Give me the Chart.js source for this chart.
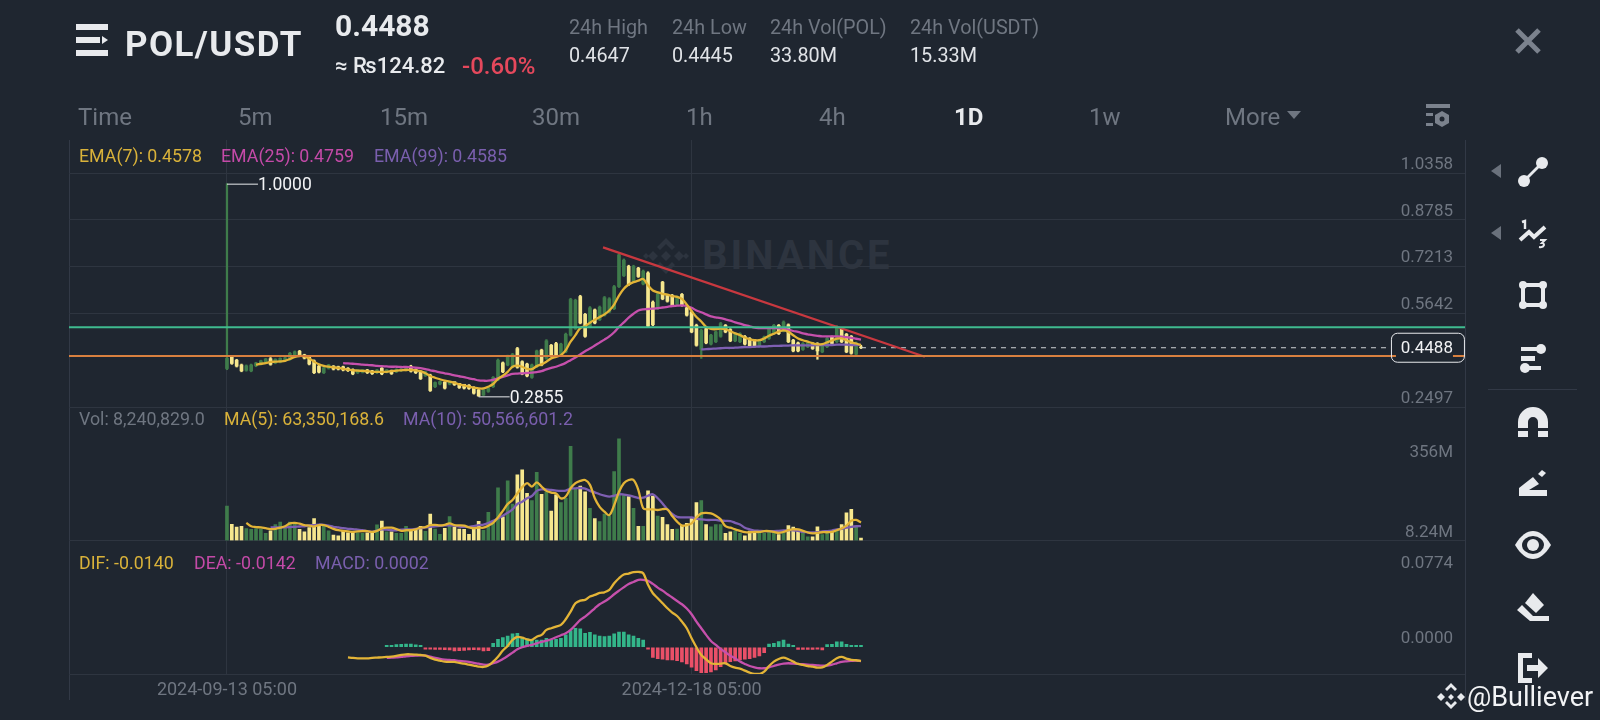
<!DOCTYPE html>
<html>
<head>
<meta charset="utf-8">
<script src="https://cdn.jsdelivr.net/npm/chart.js@4"></script>
<style>
html,body{margin:0;padding:0;background:#1f2630;width:1600px;height:720px;overflow:hidden;font-family:Roboto,"DejaVu Sans",sans-serif;}
.t{position:absolute;white-space:nowrap;transform:translateY(-50%);line-height:1;}
.ln{position:absolute;background:#323946;}
svg.i{position:absolute;overflow:visible;}
canvas{position:absolute;left:0;top:0;}
</style>
</head>
<body>
<!-- frame + watermark behind the chart -->
<div class="ln" style="left:69px;top:140px;width:1px;height:560px"></div>
<div class="ln" style="left:1465px;top:140px;width:1px;height:560px"></div>
<svg class="i" style="left:643px;top:238px" width="46" height="36" viewBox="0 0 46 36" fill="#2d343f">
  <path d="M23 0l9 9-3 3-6-6-6 6-3-3zM10 13l5 5-5 5-5-5zM36 13l5 5-5 5-5-5zM23 13l5 5-5 5-5-5zM14 27l3-3 6 6 6-6 3 3-9 9zM3 15l3 3-3 3-3-3zM43 15l3 3-3 3-3-3z"/>
</svg>
<div class="t" style="left:702px;top:256px;font-size:40px;font-weight:700;color:#2d343f;letter-spacing:3px">BINANCE</div>

<canvas id="c" width="1600" height="720"></canvas>

<!-- header -->
<svg class="i" style="left:76px;top:24px" width="32" height="32" viewBox="0 0 32 32" fill="#e8eaed">
  <rect x="0" y="0" width="32" height="6"/><rect x="0" y="13" width="24" height="6"/><path d="M26 12l6 4-6 4z"/><rect x="0" y="26" width="32" height="6"/>
</svg>
<div class="t" style="left:125px;top:44px;font-size:35px;font-weight:700;color:#e8eaed;letter-spacing:1.4px">POL/USDT</div>
<div class="t" style="left:335px;top:26px;font-size:30px;font-weight:700;color:#e8eaed">0.4488</div>
<div class="t" style="left:335px;top:66px;font-size:22px;font-weight:500;color:#e8eaed">≈ ₨124.82</div>
<div class="t" style="left:462px;top:66px;font-size:24px;font-weight:500;color:#e5485c">-0.60%</div>
<div class="t" style="left:569px;top:28px;font-size:19.8px;color:#6f7681">24h High</div>
<div class="t" style="left:569px;top:56px;font-size:19.8px;color:#e0e3e7">0.4647</div>
<div class="t" style="left:672px;top:28px;font-size:19.8px;color:#6f7681">24h Low</div>
<div class="t" style="left:672px;top:56px;font-size:19.8px;color:#e0e3e7">0.4445</div>
<div class="t" style="left:770px;top:28px;font-size:19.8px;color:#6f7681">24h Vol(POL)</div>
<div class="t" style="left:770px;top:56px;font-size:19.8px;color:#e0e3e7">33.80M</div>
<div class="t" style="left:910px;top:28px;font-size:19.8px;color:#6f7681">24h Vol(USDT)</div>
<div class="t" style="left:910px;top:56px;font-size:19.8px;color:#e0e3e7">15.33M</div>
<svg class="i" style="left:1515px;top:28px" width="26" height="26" viewBox="0 0 26 26" stroke="#7b828d" stroke-width="5" fill="none"><path d="M2 2l22 22M24 2L2 24"/></svg>

<!-- interval row -->
<div class="t" style="left:78px;top:117px;font-size:24px;color:#6f7681">Time</div>
<div class="t" style="left:238px;top:117px;font-size:24px;color:#6f7681">5m</div>
<div class="t" style="left:380px;top:117px;font-size:24px;color:#6f7681">15m</div>
<div class="t" style="left:532px;top:117px;font-size:24px;color:#6f7681">30m</div>
<div class="t" style="left:686px;top:117px;font-size:24px;color:#6f7681">1h</div>
<div class="t" style="left:819px;top:117px;font-size:24px;color:#6f7681">4h</div>
<div class="t" style="left:954px;top:117px;font-size:24px;font-weight:700;color:#e8eaed">1D</div>
<div class="t" style="left:1089px;top:117px;font-size:24px;color:#6f7681">1w</div>
<div class="t" style="left:1225px;top:117px;font-size:24px;color:#6f7681">More</div>
<svg class="i" style="left:1287px;top:111px" width="14" height="8" viewBox="0 0 14 8" fill="#6f7681"><path d="M0 0h14L7 8z"/></svg>
<svg class="i" style="left:1426px;top:104px" width="24" height="24" viewBox="0 0 24 24" fill="#7b828d"><rect x="0" y="0" width="24" height="4"/><rect x="0" y="9" width="7" height="3"/><rect x="0" y="19" width="7" height="3"/><path d="M16 7l7 4v8l-7 4-7-4v-8z"/><circle cx="16" cy="15" r="2.5" fill="#1f2630"/></svg>

<!-- indicator legends -->
<div class="t" style="left:79px;top:156px;font-size:17.8px;color:#d9b23a">EMA(7): 0.4578</div>
<div class="t" style="left:221px;top:156px;font-size:17.8px;color:#c44aa8">EMA(25): 0.4759</div>
<div class="t" style="left:374px;top:156px;font-size:17.8px;color:#7a5fae">EMA(99): 0.4585</div>
<div class="t" style="left:79px;top:419px;font-size:17.8px;color:#6f7681">Vol: 8,240,829.0</div>
<div class="t" style="left:224px;top:419px;font-size:17.8px;color:#d9b23a">MA(5): 63,350,168.6</div>
<div class="t" style="left:403px;top:419px;font-size:17.8px;color:#7a5fae">MA(10): 50,566,601.2</div>
<div class="t" style="left:79px;top:563px;font-size:17.8px;color:#d9b23a">DIF: -0.0140</div>
<div class="t" style="left:194px;top:563px;font-size:17.8px;color:#c44aa8">DEA: -0.0142</div>
<div class="t" style="left:315px;top:563px;font-size:17.8px;color:#7a5fae">MACD: 0.0002</div>

<!-- drawing toolbar -->
<svg class="i" style="left:1491px;top:164px" width="10" height="14" viewBox="0 0 10 14" fill="#6a717c"><path d="M10 0v14L0 7z"/></svg>
<svg class="i" style="left:1491px;top:226px" width="10" height="14" viewBox="0 0 10 14" fill="#6a717c"><path d="M10 0v14L0 7z"/></svg>
<svg class="i" style="left:1518px;top:157px" width="30" height="30" viewBox="0 0 30 30" fill="#e8eaed"><circle cx="6" cy="24" r="6"/><circle cx="24" cy="6" r="6"/><path d="M6 22l16-16 2 2-16 16z"/></svg>
<svg class="i" style="left:1518px;top:219px" width="30" height="30" viewBox="0 0 30 30" fill="none" stroke="#e8eaed"><path d="M2 21l9-8 5 5 11-10" stroke-width="4"/><path d="M4 3l3-1v8" stroke-width="2.4"/><path d="M22 21h5l-3 3c3 0 3 5-3 4" stroke-width="2"/></svg>
<svg class="i" style="left:1519px;top:281px" width="28" height="28" viewBox="0 0 28 28" fill="#e8eaed"><path d="M4 4h20v20H4z" fill="none" stroke="#e8eaed" stroke-width="4"/><circle cx="4" cy="4" r="4"/><circle cx="24" cy="4" r="4"/><circle cx="4" cy="24" r="4"/><circle cx="24" cy="24" r="4"/></svg>
<svg class="i" style="left:1519px;top:344px" width="28" height="28" viewBox="0 0 28 28" fill="#e8eaed"><circle cx="22" cy="5" r="5"/><rect x="2" y="3" width="20" height="4"/><rect x="2" y="12" width="14" height="5"/><circle cx="6" cy="24" r="5"/><rect x="6" y="22" width="16" height="4"/></svg>
<div class="ln" style="left:1488px;top:389px;width:89px;height:1px"></div>
<svg class="i" style="left:1518px;top:407px" width="30" height="30" viewBox="0 0 30 30" fill="#e8eaed"><path d="M0 15a15 15 0 0 1 30 0v6h-10v-6a5 5 0 0 0-10 0v6H0z"/><rect x="0" y="24" width="10" height="6"/><rect x="20" y="24" width="10" height="6"/></svg>
<svg class="i" style="left:1519px;top:470px" width="28" height="26" viewBox="0 0 28 26" fill="#e8eaed"><path d="M0 18l14-11 6 7-10 6h18v6H0z"/><path d="M19 4l4-4 4 3-4 4z"/></svg>
<svg class="i" style="left:1515px;top:531px" width="36" height="28" viewBox="0 0 36 28"><path d="M0 14C6 4 12 0 18 0s12 4 18 14c-6 10-12 14-18 14S6 24 0 14z" fill="#e8eaed"/><ellipse cx="18" cy="14" rx="11" ry="9" fill="#1f2630"/><circle cx="18" cy="14" r="6" fill="#e8eaed"/></svg>
<svg class="i" style="left:1517px;top:593px" width="32" height="30" viewBox="0 0 32 30" fill="#e8eaed"><path d="M16 0l11 12-8 8L8 10z"/><path d="M5 12l11 11h16v5H13L0 17z"/></svg>
<svg class="i" style="left:1518px;top:653px" width="30" height="30" viewBox="0 0 30 30" fill="#e8eaed"><path d="M0 0h14v5H5v20h9v5H0z"/><path d="M9 12h11V5l10 10-10 10v-7H9z"/></svg>

<!-- attribution -->
<svg class="i" style="left:1437px;top:683px" width="28" height="28" viewBox="0 0 28 28" fill="#e8eaed"><path d="M14 0l6 6-2 2-4-4-4 4-2-2zM4 10l4 4-4 4-4-4zM24 10l4 4-4 4-4-4zM14 11l3 3-3 3-3-3zM8 20l2-2 4 4 4-4 2 2-6 6z"/></svg>
<div class="t" style="left:1467px;top:697px;font-size:27px;color:#f2f3f5">@Bulliever</div>

<script>
// ---- candles ----
const opens = [
.379,.418,.407,.391,.373,.371,.388,.394,.398,.412,
.398,.401,.405,.410,.418,.437,.425,.418,.405,.387,
.365,.380,.387,.385,.385,.380,.376,.365,.367,.374,
.371,.365,.380,.367,.372,.368,.372,.374,.387,.376,
.368,.355,.357,.318,.327,.333,.327,.335,.329,.326,
.323,.316,.307,.290,.302,.318,.341,.398,.391,.385,
.446,.402,.394,.349,.385,.441,.413,.457,.463,.430,
.435,.491,.513,.621,.561,.519,.576,.543,.558,.569,
.580,.654,.691,.722,.674,.716,.663,.700,.602,.580,
.669,.624,.624,.594,.628,.583,.569,.524,.443,.513,
.461,.469,.487,.524,.510,.472,.469,.487,.480,.474,
.454,.469,.480,.496,.524,.505,.526,.474,.465,.443,
.452,.463,.463,.435,.452,.485,.469,.513,.494,.487,
.427,.4514];
const closes = [
.413,.396,.387,.371,.388,.391,.398,.405,.411,.393,
.410,.413,.415,.430,.435,.422,.414,.394,.365,.367,
.381,.391,.377,.377,.374,.372,.361,.374,.374,.365,
.362,.374,.361,.374,.362,.376,.377,.381,.370,.365,
.345,.368,.305,.332,.335,.313,.335,.325,.315,.313,
.312,.296,.287,.307,.313,.349,.407,.368,.421,.427,
.383,.361,.354,.391,.438,.391,.472,.421,.424,.461,
.494,.611,.608,.532,.487,.583,.532,.585,.617,.613,
.654,.761,.743,.661,.722,.688,.706,.521,.526,.630,
.613,.605,.591,.619,.591,.558,.502,.457,.507,.465,
.491,.502,.530,.502,.472,.496,.496,.461,.454,.454,
.474,.485,.513,.524,.496,.535,.469,.438,.438,.463,
.465,.446,.438,.457,.480,.463,.519,.469,.435,.430,
.465,.4488];
const highs = [
1.0,.421,.410,.394,.391,.394,.400,.407,.413,.416,
.412,.415,.417,.433,.438,.440,.427,.421,.408,.390,
.383,.393,.389,.387,.387,.382,.378,.376,.376,.376,
.373,.376,.382,.376,.374,.378,.379,.383,.390,.378,
.371,.370,.360,.334,.337,.335,.337,.331,.328,.325,
.325,.318,.309,.309,.315,.352,.411,.401,.424,.430,
.450,.405,.397,.394,.441,.444,.476,.460,.467,.464,
.498,.615,.612,.625,.564,.587,.579,.589,.621,.617,
.658,.765,.747,.726,.726,.719,.710,.704,.606,.634,
.672,.627,.628,.623,.631,.586,.572,.528,.511,.516,
.494,.505,.534,.527,.513,.499,.499,.490,.483,.477,
.477,.488,.516,.527,.527,.539,.529,.477,.468,.466,
.468,.466,.466,.460,.483,.488,.523,.516,.497,.490,
.468,.457];
const lows = [
.375,.393,.384,.368,.370,.368,.385,.391,.395,.390,
.395,.398,.402,.407,.415,.419,.411,.391,.362,.364,
.362,.377,.374,.374,.371,.369,.358,.362,.364,.362,
.359,.362,.358,.364,.359,.365,.369,.371,.367,.362,
.342,.352,.302,.315,.324,.310,.324,.322,.312,.310,
.309,.293,.2855,.288,.299,.315,.338,.365,.388,.382,
.380,.358,.351,.346,.382,.388,.410,.418,.421,.427,
.432,.488,.510,.529,.484,.516,.529,.540,.555,.566,
.577,.651,.688,.658,.671,.685,.660,.518,.523,.577,
.610,.602,.588,.591,.588,.555,.499,.454,.413,.462,
.458,.466,.484,.499,.469,.469,.466,.458,.451,.451,
.451,.466,.477,.493,.493,.502,.466,.435,.435,.440,
.449,.443,.410,.432,.449,.460,.466,.466,.432,.427,
.424,.446];

// ---- price EMAs ----
const ema7Start = 6;
const ema7 = [
.392,.395,.397,.401,.402,.403,.405,.411,.418,.421,.420,.413,.402,.393,
.388,.385,.383,.381,.378,.375,.373,.372,.371,.370,.368,.368,.368,.368,
.370,.372,.373,.374,.374,.373,.370,.363,.354,.348,.343,.338,.335,.331,
.326,.322,.318,.315,.312,.312,.318,.327,.344,.355,.368,.385,.389,.385,
.378,.377,.387,.393,.402,.413,.418,.424,.441,.469,.491,.515,.521,.533,
.543,.552,.561,.574,.594,.624,.647,.661,.669,.674,.680,.658,.641,.635,
.630,.627,.622,.620,.613,.594,.572,.552,.537,.519,.512,.511,.513,.511,
.504,.497,.491,.483,.477,.474,.474,.480,.489,.496,.503,.507,.502,.491,
.480,.474,.469,.464,.460,.461,.467,.473,.479,.480,.474,.467,.463,.4578];
const ema25Start = 24;
const ema25 = [
.397,.396,.395,.394,.392,.391,.390,.388,.387,.386,.385,.385,.384,.384,
.383,.382,.380,.377,.373,.370,.366,.363,.360,.356,.353,.350,.346,.343,
.339,.338,.338,.341,.346,.351,.356,.361,.362,.363,.364,.365,.367,.370,
.376,.381,.385,.391,.398,.407,.416,.426,.437,.446,.456,.466,.476,.487,
.501,.519,.534,.550,.563,.574,.578,.579,.580,.582,.584,.586,.589,.590,
.591,.589,.583,.574,.568,.561,.554,.551,.548,.544,.540,.534,.530,.525,
.521,.516,.515,.515,.515,.515,.514,.513,.510,.505,.502,.497,.494,.491,
.489,.487,.487,.487,.487,.486,.484,.482,.479,.4759];
const ema99Start = 98;
const ema99 = [
.443,.444,.445,.446,.447,.448,.448,.449,.450,.451,.451,.452,.453,.453,
.454,.455,.455,.456,.456,.457,.457,.457,.457,.457,.458,.458,.458,.458,
.459,.459,.459,.458,.458,.4585];

// ---- volumes ----
const volumes = [
121,57,47,50,42,39,42,40,25,34,
56,65,48,65,60,39,30,45,77,50,
50,34,19,16,36,27,30,27,25,27,
25,55,68,30,30,25,25,50,33,36,
50,32,93,40,22,43,84,48,40,39,
22,41,67,36,99,60,185,83,209,128,
230,248,165,140,239,162,171,103,160,133,
148,330,183,191,171,113,77,66,93,86,
242,356,160,154,113,50,50,174,156,86,
81,56,39,40,54,60,77,133,140,56,
48,56,56,25,30,34,25,16,33,33,
25,25,30,25,21,25,52,47,36,25,
13,13,48,21,25,30,36,56,97,109,
48,8.24];
const ma5Start = 4;
const ma5 = [
62,50,47,46,43,40,41,45,50,60,62,59,54,52,49,54,54,48,41,36,
34,32,30,32,33,33,30,34,42,45,45,40,34,36,36,39,45,47,54,55,
53,55,60,54,53,52,46,43,45,45,52,62,81,104,128,142,165,187,201,189,
204,189,174,168,165,148,154,183,201,209,212,195,148,118,101,89,124,171,201,212,
212,177,113,109,109,107,110,109,86,66,52,54,60,81,95,97,95,87,74,50,
45,39,34,29,29,30,30,33,33,30,27,30,36,39,39,34,28,25,27,29,
29,30,36,42,52,69,72,63.35];
const ma10Start = 9;
const ma10 = [
46,46,46,46,47,48,49,50,53,54,56,55,52,48,46,43,41,40,38,36,
33,30,35,39,38,36,36,38,39,39,41,43,46,48,50,51,53,53,52,49,
48,48,50,54,56,61,69,77,87,97,109,128,136,148,156,174,179,179,177,175,
174,175,182,183,184,182,174,169,162,157,154,157,162,161,158,154,149,150,157,162,
148,130,109,93,83,81,81,81,77,74,72,72,72,70,69,68,62,56,45,39,
35,34,33,33,33,34,35,36,36,34,30,29,28,29,32,33,35,39,41,45,
48,50,50.57];

// ---- MACD ----
const difStart = 25;
const dif = [
-.0103,-.0109,-.0113,-.0113,-.0113,-.0109,-.0106,-.0103,-.0099,-.0096,-.0089,-.0079,-.0072,-.0072,-.0075,
-.0079,-.0086,-.0109,-.0127,-.0137,-.0147,-.0150,-.0150,-.0161,-.0168,-.0178,-.0188,-.0198,-.0202,-.0188,
-.0147,-.0096,-.0034,.0014,.0075,.0106,.0099,.0082,.0075,.0109,.0127,.0178,.0195,.0212,.0229,
.0287,.0366,.0451,.0479,.0486,.0520,.0537,.0557,.0564,.0588,.0657,.0708,.0746,.0756,.0770,
.0773,.0759,.0640,.0554,.0503,.0451,.0400,.0356,.0321,.0263,.0195,.0092,0,-.0079,-.0123,
-.0164,-.0171,-.0168,-.0164,-.0192,-.0209,-.0219,-.0239,-.0260,-.0274,-.0274,-.0250,-.0192,-.0147,-.0120,
-.0106,-.0123,-.0147,-.0171,-.0181,-.0192,-.0198,-.0209,-.0205,-.0181,-.0147,-.0113,-.0099,-.0116,-.0130,-.0133,-.0140];
const deaStart = 33;
const dea = [
-.0109,-.0106,-.0103,-.0099,-.0092,-.0089,-.0086,-.0082,-.0086,-.0096,-.0109,-.0120,-.0127,-.0130,-.0133,
-.0140,-.0144,-.0150,-.0161,-.0168,-.0178,-.0178,-.0164,-.0147,-.0120,-.0089,-.0055,-.0021,0,.0014,
.0024,.0041,.0055,.0068,.0082,.0103,.0123,.0144,.0178,.0229,.0280,.0315,.0356,.0400,.0441,
.0469,.0503,.0544,.0581,.0616,.0650,.0670,.0691,.0691,.0681,.0650,.0612,.0581,.0544,.0510,
.0475,.0441,.0397,.0339,.0263,.0195,.0127,.0065,.0024,-.0017,-.0051,-.0086,-.0113,-.0147,-.0171,
-.0192,-.0205,-.0215,-.0215,-.0205,-.0192,-.0178,-.0168,-.0164,-.0168,-.0171,-.0174,-.0178,-.0181,-.0185,
-.0188,-.0188,-.0178,-.0164,-.0150,-.0144,-.0140,-.0137,-.0142];
const histStart = 33;
const hist = [
.0014,.0014,.0027,.0031,.0034,.0034,.0024,.0014,-.0014,-.0017,-.0021,-.0021,-.0024,-.0027,-.0038,
-.0034,-.0031,-.0027,-.0024,-.0027,-.0038,-.0034,.0041,.0082,.0099,.0116,.0137,.0144,.0103,.0086,
.0075,.0075,.0075,.0092,.0075,.0082,.0092,.0127,.0171,.0195,.0188,.0144,.0154,.0127,.0116,
.0109,.0116,.0137,.0157,.0157,.0127,.0116,.0092,.0075,-.0014,-.0103,-.0116,-.0123,-.0130,-.0130,
-.0137,-.0150,-.0171,-.0205,-.0239,-.0260,-.0260,-.0253,-.0233,-.0198,-.0171,-.0147,-.0140,-.0130,-.0123,
-.0116,-.0103,-.0089,-.0055,.0034,.0041,.0058,.0075,.0034,.0014,-.0021,-.0021,-.0021,-.0021,-.0017,
-.0027,.0027,.0031,.0055,.0055,.0031,.0017,.0014,.0002];

// ---- axes ----
const priceTicks = [1.0358,.8785,.7213,.5642,.4070,.2497];
const priceTickLabels = ['1.0358','0.8785','0.7213','0.5642','','0.2497'];
const volumeTicks = [8.24,356];
const volumeTickLabels = ['8.24M','356M'];
const macdTicks = [.1095,.0774,0,-.0274];
const macdTickLabels = ['','0.0774','0.0000',''];
const timeTickIdx = [0,96];
const timeTickLabels = ['2024-09-13 05:00','2024-12-18 05:00'];

// ---- drawn levels / annotations ----
const lastPrice = 0.4488;
const greenLevel = 0.5175;
const orangeLevel = 0.4207;
const trendX = [77.7,144.2];
const trendY = [0.7858,0.4185];
const lastPriceLineEndX = 240.5;
const peak = {i:0,v:1.0,label:'1.0000'};
const trough = {i:52,v:0.2855,label:'0.2855'};

const UP='#3f7c4b', DOWN='#f6e78e', MUP='#33b68a', MDN='#ea5068';
const YEL='#e3b437', PINK='#c650ac', PUR='#7e5fb2', GRID='#2e3540', TXT='#6f7681';
const XMIN=-32.64, XMAX=255.8;

const pts = (vals,first)=>vals.map((v,k)=>({x:first+k,y:v}));
const line = (vals,first,color,axis)=>({type:'line',data:pts(vals,first),yAxisID:axis,borderColor:color,borderWidth:2.3,pointRadius:0,tension:.35,order:2});
const candleCol = opens.map((o,i)=>closes[i]>=o?UP:DOWN);

const tickFont = {family:'Roboto',size:17};
function yAxis(weight,min,max,vals,labels,gridFn){
  return {type:'linear',position:'right',stack:'panes',stackWeight:weight,min,max,
    border:{display:false},
    grid:{drawTicks:false,color:gridFn,lineWidth:1},
    ticks:{mirror:true,padding:-12,align:'end',autoSkip:false,color:TXT,font:tickFont,
      callback:(v,i)=>labels[i]},
    afterBuildTicks(s){s.ticks=vals.map(v=>({value:v}));},
    afterFit(s){s.width=0;}
  };
}
const panelOnly = c=>(c.tick&&c.index!==undefined&&macdTickLabels[c.index]==='')?GRID:'transparent';
const priceGrid = c=>(c.tick&&c.index!==undefined&&priceTickLabels[c.index]==='')?'transparent':GRID;

const overlay = {
  id:'overlay',
  beforeDraw(chart){
    const s=chart.scales.vol;
    if(s._shifted) return;
    const items=s.getLabelItems(chart.chartArea);
    items.forEach(it=>{ it.options.translation[1]+= it.label==='356M'?22:3; });
    s._shifted=true;
  },
  afterDatasetsDraw(chart){
    const {ctx,scales:{x,price}}=chart;
    ctx.save();
    ctx.font='17.5px Roboto';
    ctx.textBaseline='middle';
    for(const m of [peak,trough]){
      const px=x.getPixelForValue(m.i), py=price.getPixelForValue(m.v);
      ctx.strokeStyle='#e8eaed';ctx.lineWidth=1;
      ctx.beginPath();ctx.moveTo(px,py+.5);ctx.lineTo(px+31,py+.5);ctx.stroke();
      ctx.fillStyle='#f2f3f5';ctx.textAlign='left';
      ctx.fillText(m.label,px+31,py+2);
    }
    ctx.font='17px Roboto';
    const py=price.getPixelForValue(lastPrice);
    const bx=x.getPixelForValue(lastPriceLineEndX), bw=73;
    ctx.fillStyle='#1f2630';
    ctx.fillRect(bx+5,py-13,bw-16,26);
    ctx.fillRect(bx+1,py-14,bw-2,6);
    ctx.strokeStyle='#e8eaed';ctx.lineWidth=1;
    ctx.beginPath();ctx.roundRect(bx+.5,py-14.5,bw,29,6);ctx.stroke();
    ctx.fillStyle='#f2f3f5';ctx.textAlign='right';
    ctx.fillText(lastPrice.toFixed(4),bx+bw-11,py+1);
    ctx.restore();
  }
};

const datasets = [
  // drawn levels
  {type:'line',data:[{x:XMIN,y:greenLevel},{x:XMAX,y:greenLevel}],yAxisID:'price',borderColor:'#3fbb8f',borderWidth:2,pointRadius:0,order:0},
  {type:'line',data:[{x:XMIN,y:orangeLevel},{x:XMAX,y:orangeLevel}],yAxisID:'price',borderColor:'#d8803f',borderWidth:2,pointRadius:0,order:0},
  {type:'line',data:trendX.map((v,k)=>({x:v,y:trendY[k]})),yAxisID:'price',borderColor:'#c8383f',borderWidth:2.3,pointRadius:0,order:0},
  {type:'line',data:[{x:131,y:lastPrice},{x:lastPriceLineEndX,y:lastPrice}],yAxisID:'price',borderColor:'#cfd2d6',borderWidth:1,borderDash:[5,5],pointRadius:0,order:1},
  // EMAs
  line(ema7,ema7Start,YEL,'price'),
  line(ema25,ema25Start,PINK,'price'),
  line(ema99,ema99Start,PUR,'price'),
  // candles
  {type:'bar',grouped:false,data:opens.map((o,i)=>({x:i,y:[o,closes[i]]})),yAxisID:'price',backgroundColor:candleCol,barThickness:3,order:10},
  {type:'bar',grouped:false,data:lows.map((l,i)=>({x:i,y:[l,highs[i]]})),yAxisID:'price',backgroundColor:candleCol,barThickness:1.6,order:11},
  // volume
  {type:'bar',grouped:false,data:pts(volumes,0),yAxisID:'vol',backgroundColor:candleCol,barThickness:3,order:10},
  line(ma5,ma5Start,YEL,'vol'),
  line(ma10,ma10Start,PUR,'vol'),
  // MACD
  {type:'bar',grouped:false,data:pts(hist,histStart),yAxisID:'macd',backgroundColor:hist.map(v=>v>=0?MUP:MDN),barThickness:3,minBarLength:2,order:10},
  line(dif,difStart,YEL,'macd'),
  line(dea,deaStart,PINK,'macd'),
];

new Chart(document.getElementById('c'),{
  data:{datasets},
  plugins:[overlay],
  options:{
    responsive:false,animation:false,events:[],
    layout:{padding:{left:69,right:135,top:140,bottom:0}},
    plugins:{legend:{display:false},tooltip:{enabled:false}},
    scales:{
      x:{type:'linear',position:'bottom',min:XMIN,max:XMAX,offset:false,
        border:{display:false},
        grid:{color:GRID,drawTicks:false,offset:false},
        ticks:{autoSkip:false,maxRotation:0,padding:6,color:TXT,font:{family:'Roboto',size:18},
          callback:(v,i)=>timeTickLabels[i]},
        afterBuildTicks(s){s.ticks=timeTickIdx.map(v=>({value:v}));},
        afterFit(s){s.height=46;}
      },
      price:yAxis(2,.2497,1.1467,priceTicks,priceTickLabels,priceGrid),
      vol:yAxis(1,0,468,volumeTicks,volumeTickLabels,()=>'transparent'),
      macd:yAxis(1,-.0274,.1095,macdTicks,macdTickLabels,panelOnly)
    }
  }
});
</script>
</body>
</html>
